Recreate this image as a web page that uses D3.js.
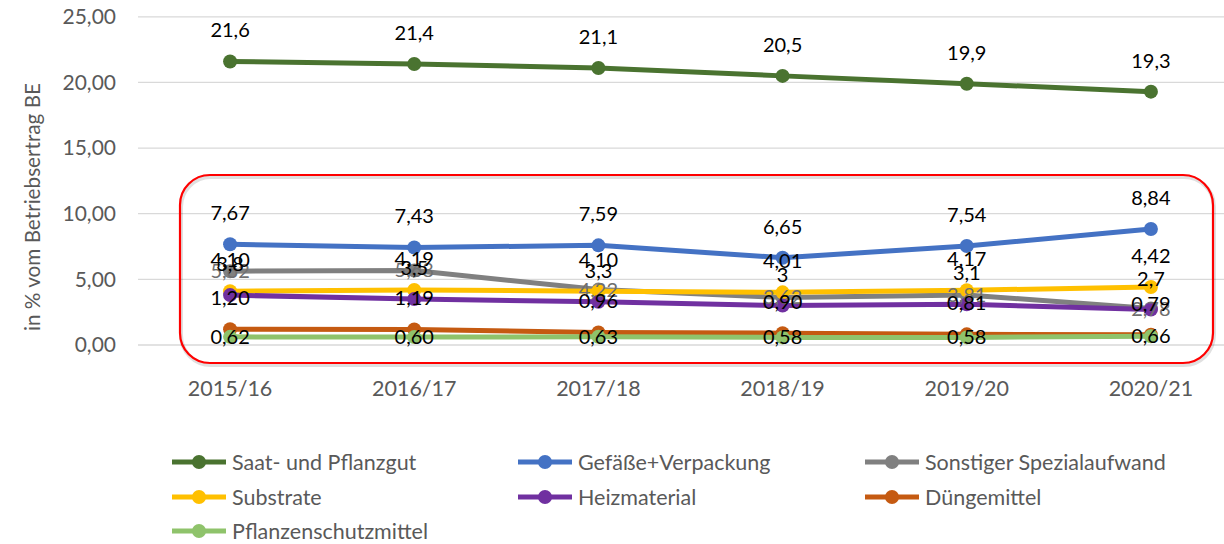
<!DOCTYPE html>
<html>
<head>
<meta charset="utf-8">
<script src="https://cdn.jsdelivr.net/npm/d3@7"></script>
<style>
body { margin:0; background:#fff; }
text { font-family: Lato, "Open Sans", sans-serif; }
</style>
</head>
<body>
<script>
var years = ["2015/16","2016/17","2017/18","2018/19","2019/20","2020/21"];
var yTicks = [0, 5, 10, 15, 20, 25];

var saat      = [21.6, 21.4, 21.1, 20.5, 19.9, 19.3];
var gefaesse  = [7.67, 7.43, 7.59, 6.65, 7.54, 8.84];
var sonstiger = [5.62, 5.68, 4.22, 3.62, 3.81, 2.78];
var substrate = [4.10, 4.19, 4.10, 4.01, 4.17, 4.42];
var heiz      = [3.8, 3.5, 3.3, 3.0, 3.1, 2.7];
var duenge    = [1.20, 1.19, 0.96, 0.90, 0.81, 0.79];
var pflanzen  = [0.62, 0.60, 0.63, 0.58, 0.58, 0.66];

// label format per series: 1 = one decimal, 2 = two decimals, 0 = as is
var series = [
  { name:"Saat- und Pflanzgut",       values:saat,      color:"#4a7330", dec:1, pos:"above" },
  { name:"Gefäße+Verpackung",         values:gefaesse,  color:"#4472c4", dec:2, pos:"above" },
  { name:"Sonstiger Spezialaufwand",  values:sonstiger, color:"#808080", dec:2, pos:"center", labelColor:"#6f6f6f" },
  { name:"Substrate",                 values:substrate, color:"#ffc000", dec:2, pos:"above" },
  { name:"Heizmaterial",              values:heiz,      color:"#7030a0", dec:0, pos:"above" },
  { name:"Düngemittel",               values:duenge,    color:"#c55a11", dec:2, pos:"above" },
  { name:"Pflanzenschutzmittel",      values:pflanzen,  color:"#8fc36b", dec:2, pos:"center" }
];

var svg = d3.select("body").append("svg")
  .attr("width", 1224)
  .attr("height", 544);

var x = d3.scalePoint().domain(years).range([138, 1243]).padding(0.5);
var y = d3.scaleLinear().domain([0, 25]).range([345, 16.8]);

function fmt(v, dec) {
  var s = dec == 2 ? v.toFixed(2) : dec == 1 ? v.toFixed(1) : String(v);
  return s.replace(".", ",");
}

// gridlines
svg.append("g").selectAll("line").data(yTicks).enter().append("line")
  .attr("x1", 138).attr("x2", 1224)
  .attr("y1", function(d){ return y(d); })
  .attr("y2", function(d){ return y(d); })
  .attr("stroke", "#d9d9d9").attr("stroke-width", 1.3);

// y tick labels
svg.append("g").selectAll("text").data(yTicks).enter().append("text")
  .attr("x", 116).attr("y", function(d){ return y(d); })
  .attr("dy", "0.35em").attr("text-anchor", "end")
  .attr("font-size", 21).attr("fill", "#595959")
  .text(function(d){ return d.toFixed(2).replace(".", ","); });

// x labels
svg.append("g").selectAll("text").data(years).enter().append("text")
  .attr("x", function(d){ return x(d); }).attr("y", 388)
  .attr("dy", "0.35em").attr("text-anchor", "middle")
  .attr("font-size", 21.5).attr("fill", "#595959")
  .text(function(d){ return d; });

// y title
svg.append("text")
  .attr("transform", "translate(33,207) rotate(-90)")
  .attr("text-anchor", "middle").attr("dy", "0.35em")
  .attr("font-size", 20.7).attr("fill", "#595959")
  .text("in % vom Betriebsertrag BE");

// red highlight box (shadow + frame)
svg.append("rect")
  .attr("x", 181).attr("y", 177).attr("width", 1033).attr("height", 188)
  .attr("rx", 30).attr("fill", "none")
  .attr("stroke", "#000").attr("stroke-opacity", 0.12).attr("stroke-width", 4);
svg.append("rect")
  .attr("x", 180).attr("y", 175).attr("width", 1033).attr("height", 188)
  .attr("rx", 30).attr("fill", "none")
  .attr("stroke", "#ff0000").attr("stroke-width", 2.2);

var line = d3.line()
  .x(function(d, i){ return x(years[i]); })
  .y(function(d){ return y(d); });

var g = svg.selectAll(".series").data(series).enter().append("g");

g.append("path")
  .attr("d", function(s){ return line(s.values); })
  .attr("fill", "none")
  .attr("stroke", function(s){ return s.color; })
  .attr("stroke-width", 5)
  .attr("stroke-linejoin", "round")
  .attr("stroke-linecap", "round");

g.selectAll("circle").data(function(s){ return s.values.map(function(v){ return { v:v, s:s }; }); })
  .enter().append("circle")
  .attr("cx", function(d, i){ return x(years[i]); })
  .attr("cy", function(d){ return y(d.v); })
  .attr("r", 7)
  .attr("fill", function(d){ return d.s.color; });

// data labels on top
var lg = svg.append("g");
series.forEach(function(s){
  s.values.forEach(function(v, i){
    lg.append("text")
      .attr("x", x(years[i]))
      .attr("y", y(v) + (s.pos == "above" ? -31 : 0))
      .attr("dy", "0.35em")
      .attr("text-anchor", "middle")
      .attr("font-size", 20)
      .attr("fill", s.labelColor || "#000")
      .text(fmt(v, s.dec));
  });
});

// legend
var legCols = [172, 518, 865];
var legRows = [462, 497, 531];
var leg = svg.append("g").selectAll("g").data(series).enter().append("g")
  .attr("transform", function(d, i){
    return "translate(" + legCols[i % 3] + "," + legRows[Math.floor(i / 3)] + ")";
  });
leg.append("line")
  .attr("x1", 0).attr("x2", 54)
  .attr("stroke", function(d){ return d.color; })
  .attr("stroke-width", 5);
leg.append("circle")
  .attr("cx", 27).attr("r", 7)
  .attr("fill", function(d){ return d.color; });
leg.append("text")
  .attr("x", 60).attr("dy", "0.35em")
  .attr("font-size", 21.5).attr("fill", "#595959")
  .text(function(d){ return d.name; });
</script>
</body>
</html>
